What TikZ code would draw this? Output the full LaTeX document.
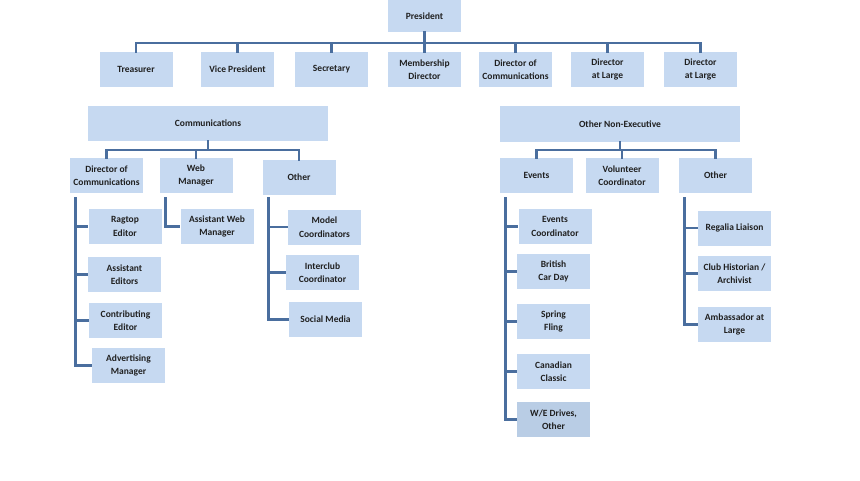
\documentclass[tikz,border=0pt]{standalone}
\usepackage{fontspec}
\setmainfont{Carlito}
\definecolor{boxfill}{HTML}{C6D9F1}
\definecolor{boxdark}{HTML}{B9CDE5}
\definecolor{linec}{HTML}{4A6E9E}
\definecolor{txt}{HTML}{202020}
\begin{document}
\begin{tikzpicture}[x=1pt,y=-1pt,
  box/.style={fill=boxfill,draw=none,minimum width=73pt,minimum height=35pt,inner sep=1pt,align=center,
    font=\fontsize{9.5}{13.5}\selectfont\bfseries,text=txt},
  wide/.style={box,minimum width=240pt},
  conn/.style={draw=linec,line width=2.8pt,line cap=rect}]
\useasboundingbox[fill=white] (0,0) rectangle (860,480);
% top level
\node[box,minimum height=32pt] (pres) at (424.5,16) {President};
\node[box] (treas) at (136,69.5) {Treasurer};
\node[box] (vp) at (237.5,69.5) {Vice President};
\node[box] (sec) at (331.5,69.5) {Secretary};
\node[box] (mem) at (424.5,69.5) {Membership\\Director};
\node[box] (doc) at (515.5,69.5) {Director of\\Communications};
\node[box] (dal) at (607.5,69.5) {Director\\at Large};
\node[box] (dalb) at (700.5,69.5) {Director\\at Large};
\coordinate (pb) at (424.5,43);
\draw[conn] (treas.north) -- (treas.north |- pb) -- (dalb.north |- pb) -- (dalb.north);
\draw[conn] (pres.south) -- ([yshift=-2pt]pb);
\foreach \n in {vp,sec,mem,doc,dal} \draw[conn] (\n.north) -- (\n.north |- pb);
% communications
\node[wide] (comm) at (208,123.5) {Communications};
\node[box] (doca) at (106.5,175.5) {Director of\\Communications};
\node[box] (web) at (196,175.5) {Web\\Manager};
\node[box] (otha) at (299,177.5) {Other};
\coordinate (cb) at (208,150);
\draw[conn] (doca.north) -- (doca.north |- cb) -- (otha.north |- cb) -- (otha.north);
\draw[conn] (comm.south) -- (cb);
\draw[conn] (web.north) -- (web.north |- cb);
\node[box] (rag) at (125,226.5) {Ragtop\\Editor};
\node[box] (asse) at (124.5,274.5) {Assistant\\Editors};
\node[box] (cont) at (125.5,320.5) {Contributing\\Editor};
\node[box] (adv) at (128.5,365.5) {Advertising\\Manager};
\coordinate (dv) at ([xshift=5.5pt,yshift=-4pt]doca.south west);
\draw[conn,line cap=butt] (dv) -- (dv |- adv.west) -- (adv.west);
\foreach \n in {rag,asse,cont} \draw[conn,line cap=butt] (dv |- \n.west) -- (\n.west);
\node[box] (awm) at (217,226.5) {Assistant Web\\Manager};
\coordinate (wv) at ([xshift=6pt,yshift=-4pt]web.south west);
\draw[conn,line cap=butt] (wv) -- (wv |- awm.west) -- (awm.west);
\node[box] (model) at (324.5,227) {Model\\Coordinators};
\node[box] (inter) at (322.5,272.5) {Interclub\\Coordinator};
\node[box] (social) at (325.5,319.5) {Social Media};
\coordinate (ov) at ([xshift=6pt,yshift=-2pt]otha.south west);
\draw[conn,line cap=butt] (ov) -- (ov |- social.west) -- (social.west);
\foreach \n in {model,inter} \draw[conn,line cap=butt] (ov |- \n.west) -- (\n.west);
% other non-executive
\node[wide,minimum height=36pt] (one) at (620,124) {Other Non-Executive};
\node[box] (events) at (536.5,175.5) {Events};
\node[box] (vol) at (622,175.5) {Volunteer\\Coordinator};
\node[box] (othb) at (715.5,175.5) {Other};
\coordinate (nb) at (620,150);
\draw[conn] (events.north) -- (events.north |- nb) -- (othb.north |- nb) -- (othb.north);
\draw[conn] (one.south) -- (nb);
\draw[conn] (vol.north) -- (vol.north |- nb);
\node[box] (evc) at (555,226.5) {Events\\Coordinator};
\node[box] (brit) at (553.5,271.5) {British\\Car Day};
\node[box] (spring) at (553.5,321.5) {Spring\\Fling};
\node[box] (canad) at (553.5,371.5) {Canadian\\Classic};
\node[box,fill=boxdark] (we) at (553.5,419.5) {W/E Drives,\\Other};
\coordinate (ev) at ([xshift=5.5pt,yshift=-4pt]events.south west);
\draw[conn,line cap=butt] (ev) -- (ev |- we.west) -- (we.west);
\foreach \n in {evc,brit,spring,canad} \draw[conn,line cap=butt] (ev |- \n.west) -- (\n.west);
\node[box] (reg) at (734.5,228) {Regalia Liaison};
\node[box] (club) at (734.5,273.5) {Club Historian /\\Archivist};
\node[box] (amb) at (734.5,324.5) {Ambassador at\\Large};
\coordinate (rv) at ([xshift=5.5pt,yshift=-4pt]othb.south west);
\draw[conn,line cap=butt] (rv) -- (rv |- amb.west) -- (amb.west);
\foreach \n in {reg,club} \draw[conn,line cap=butt] (rv |- \n.west) -- (\n.west);
\end{tikzpicture}
\end{document}
